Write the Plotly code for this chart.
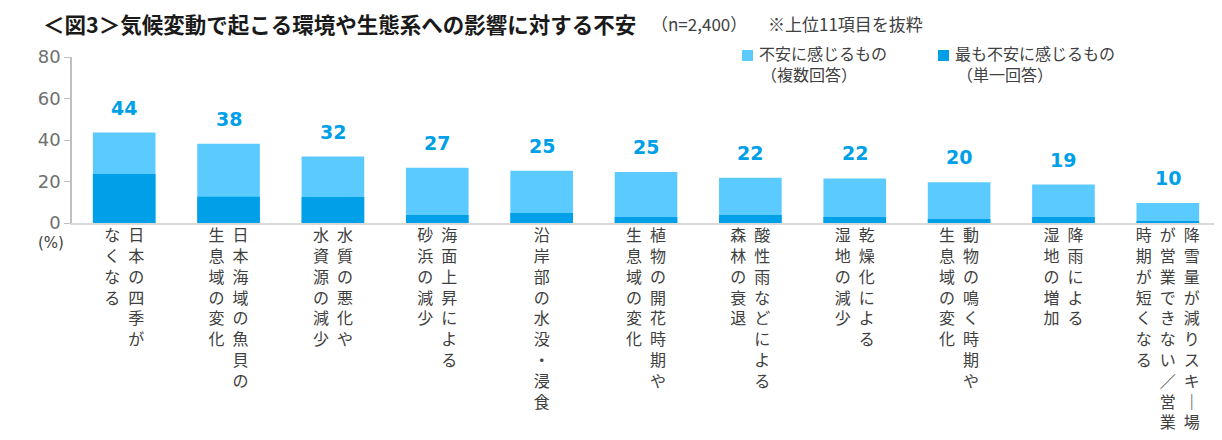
import plotly.graph_objects as go

# データ（%）
categories = [
    "日本の四季がなくなる",
    "日本海域の魚貝の生息域の変化",
    "水質の悪化や水資源の減少",
    "海面上昇による砂浜の減少",
    "沿岸部の水没・浸食",
    "植物の開花時期や生息域の変化",
    "酸性雨などによる森林の衰退",
    "乾燥化による湿地の減少",
    "動物の鳴く時期や生息域の変化",
    "降雨による湿地の増加",
    "降雪量が減りスキー場が営業できない／営業時期が短くなる",
]
# 縦書きラベル（右の列から）
label_columns = [
    ["日本の四季が", "なくなる"],
    ["日本海域の魚貝の", "生息域の変化"],
    ["水質の悪化や", "水資源の減少"],
    ["海面上昇による", "砂浜の減少"],
    ["沿岸部の水没・浸食"],
    ["植物の開花時期や", "生息域の変化"],
    ["酸性雨などによる", "森林の衰退"],
    ["乾燥化による", "湿地の減少"],
    ["動物の鳴く時期や", "生息域の変化"],
    ["降雨による", "湿地の増加"],
    ["降雪量が減りスキ｜場", "が営業できない／営業", "時期が短くなる"],
]
multi_values = [43.6, 38.2, 32.0, 26.6, 25.2, 24.6, 21.8, 21.5, 19.6, 18.5, 9.6]
multi_labels = ["44", "38", "32", "27", "25", "25", "22", "22", "20", "19", "10"]
single_values = [23.6, 12.6, 12.5, 3.9, 4.8, 2.9, 3.8, 2.9, 1.9, 2.9, 0.5]

LIGHT = "#5BCBFF"
DARK = "#00A0E9"
JP_FONT = "Noto Sans CJK JP"

# 描画領域（px）
W, H = 1214, 432
ML, MR, MT, MB = 64, 2, 49, 217
PW, PH = W - ML - MR, H - MT - MB


def px(x):
    return (x - ML) / PW


def py(y):
    return (MT + PH - y) / PH


def vertical_text(cols):
    """列のリストを縦書き風の複数行テキストにする"""
    n = max(len(c) for c in cols)
    rows = []
    for i in range(n):
        chars = [c[i] if i < len(c) else "\u3000" for c in reversed(cols)]
        rows.append("\u2002".join(chars))
    return "<br>".join(rows)


fig = go.Figure()
fig.add_trace(
    go.Bar(
        x=categories,
        y=multi_values,
        name="不安に感じるもの（複数回答）",
        marker=dict(color=LIGHT, line=dict(width=0)),
        width=0.6,
    )
)
fig.add_trace(
    go.Bar(
        x=categories,
        y=single_values,
        name="最も不安に感じるもの（単一回答）",
        marker=dict(color=DARK, line=dict(width=0)),
        width=0.6,
    )
)

# 数値ラベル
for cat, val, lab in zip(categories, multi_values, multi_labels):
    fig.add_annotation(
        x=cat, y=val, text=f"<b>{lab}</b>", showarrow=False,
        yanchor="bottom", yshift=12,
        font=dict(family="DejaVu Sans", size=19, color=DARK),
    )

# タイトル
fig.add_annotation(
    xref="paper", yref="paper", x=px(33), y=py(15.5), xanchor="left", yanchor="middle",
    showarrow=False, text="<b>＜図3＞気候変動で起こる環境や生態系への影響に対する不安</b>",
    font=dict(family=JP_FONT, size=21.5, color="#1a1a1a"),
)
fig.add_annotation(
    xref="paper", yref="paper", x=px(641), y=py(16), xanchor="left", yanchor="middle",
    showarrow=False, text="（n=2,400）",
    font=dict(family=JP_FONT, size=17, color="#404040"),
)
fig.add_annotation(
    xref="paper", yref="paper", x=px(758), y=py(16), xanchor="left", yanchor="middle",
    showarrow=False, text="※上位11項目を抜粋",
    font=dict(family=JP_FONT, size=17, color="#404040"),
)

# 凡例（手書き）
legend_items = [
    (734, LIGHT, "不安に感じるもの", "（複数回答）"),
    (930, DARK, "最も不安に感じるもの", "（単一回答）"),
]
for lx, col, line1, line2 in legend_items:
    fig.add_shape(
        type="rect", xref="paper", yref="paper",
        x0=px(lx), x1=px(lx + 11), y0=py(53), y1=py(42),
        fillcolor=col, line=dict(width=0),
    )
    for txt, ly, dx in [(line1, 45, 0), (line2, 66, 2)]:
        fig.add_annotation(
            xref="paper", yref="paper", x=px(lx + 15 + dx), y=py(ly),
            xanchor="left", yanchor="middle", showarrow=False, text=txt,
            font=dict(family=JP_FONT, size=16, color="#404040"),
        )

# (%)
fig.add_annotation(
    xref="paper", yref="paper", x=px(58), y=py(235), xanchor="right", yanchor="middle",
    showarrow=False, text="(%)",
    font=dict(family="DejaVu Sans", size=15, color="#404040"),
)

fig.update_layout(
    width=W,
    height=H,
    margin=dict(l=ML, r=MR, t=MT, b=MB, autoexpand=False),
    barmode="overlay",
    showlegend=False,
    plot_bgcolor="white",
    paper_bgcolor="white",
)
fig.update_xaxes(
    tickmode="array",
    tickvals=categories,
    ticktext=[vertical_text(c) for c in label_columns],
    tickangle=0,
    tickfont=dict(family=JP_FONT, size=16, color="#404040"),
    ticklabelstandoff=-3,
    showline=True,
    linecolor="#d9d9d9",
    linewidth=2,
    ticks="",
    showgrid=False,
)
fig.update_yaxes(
    range=[0, 80],
    dtick=20,
    showgrid=False,
    showline=True,
    linecolor="#bfbfbf",
    linewidth=1.5,
    ticks="outside",
    ticklen=6,
    tickcolor="#bfbfbf",
    tickfont=dict(family="DejaVu Sans", size=18, color="#707070"),
    zeroline=False,
)

fig.write_html("out.html")
